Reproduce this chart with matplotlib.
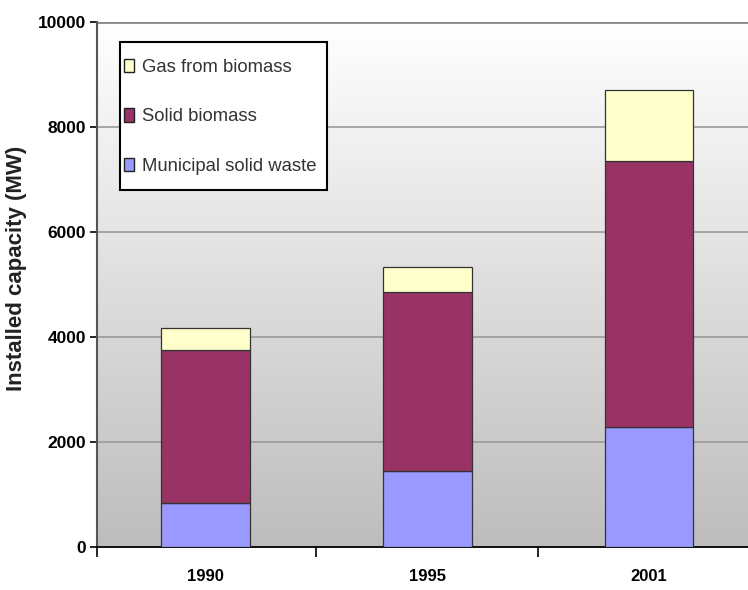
import numpy as np
import matplotlib
matplotlib.use("Agg")
import matplotlib.pyplot as plt
from matplotlib.patches import Patch, Rectangle

plt.rcParams['font.family'] = ['Liberation Sans', 'DejaVu Sans']

years = ['1990', '1995', '2001']
municipal_waste = [840, 1450, 2280]
solid_biomass = [2910, 3410, 5070]
gas_biomass = [420, 480, 1350]

fig = plt.figure(figsize=(7.48, 5.90), dpi=100)
ax = fig.add_axes([0.1297, 0.0729, 0.8703, 0.8898])

x = np.arange(len(years))
ax.set_xlim(-0.49, 2.447)
ax.set_ylim(0, 10000)

# grey fade behind the bars, white at the top
grad = np.linspace(1.0, 0.0, 256).reshape(-1, 1)
ax.imshow(grad, cmap=matplotlib.colors.LinearSegmentedColormap.from_list(
    'bg', ['#bdbdbd', '#ffffff']), aspect='auto',
    extent=[-0.49, 2.447, 0, 10000], zorder=0, origin='upper')

for yv in [2000, 4000, 6000, 8000]:
    ax.axhline(yv, color='#9a9a9a', lw=1.2, zorder=1)
ax.axhline(10000, color='#888888', lw=2.0, zorder=1)

w = 0.4
edge = '#333333'
ax.bar(x, municipal_waste, w, color='#9999ff', edgecolor=edge, lw=0.9, zorder=3)
ax.bar(x, solid_biomass, w, bottom=municipal_waste, color='#993366',
       edgecolor=edge, lw=0.9, zorder=3)
tops = [a + b for a, b in zip(municipal_waste, solid_biomass)]
ax.bar(x, gas_biomass, w, bottom=tops, color='#ffffcc', edgecolor=edge,
       lw=0.9, zorder=3)

for s in ['top', 'right']:
    ax.spines[s].set_visible(False)
ax.spines['left'].set_color('#555555')
ax.spines['left'].set_linewidth(1.5)
ax.spines['bottom'].set_linewidth(1.3)

ax.set_yticks(range(0, 10001, 2000))
ax.tick_params(axis='y', direction='out', length=5, width=1.2, pad=3,
               labelsize=12.5)
for lab in ax.get_yticklabels():
    lab.set_fontweight('bold')

# separators between categories, labels centred under the bars
ax.set_xticks([-0.49, 0.5, 1.5])
ax.set_xticklabels([])
ax.tick_params(axis='x', which='major', direction='out', length=7, width=1.2)
ax.set_xticks(x, minor=True)
ax.set_xticklabels(years, minor=True, fontsize=12, fontweight='bold')
ax.tick_params(axis='x', which='minor', length=0, pad=16)

ax.set_ylabel('Installed capacity (MW)', fontsize=16, fontweight='bold',
              color='#222222')
ax.yaxis.set_label_coords(-0.108, 0.53)

# legend frame drawn separately so the side padding can stay tight
ax.add_patch(Rectangle((0.0353, 0.680), 0.318, 0.282, transform=ax.transAxes,
                       facecolor='white', edgecolor='black', lw=1.5, zorder=5))
handles = [Patch(facecolor='#ffffcc', edgecolor='#222222', label='Gas from biomass'),
           Patch(facecolor='#993366', edgecolor='#222222', label='Solid biomass'),
           Patch(facecolor='#9999ff', edgecolor='#222222', label='Municipal solid waste')]
leg = ax.legend(handles=handles, loc='upper left', bbox_to_anchor=(0.0415, 0.93),
                fontsize=13.3, handlelength=0.55, handleheight=0.75,
                handletextpad=0.4, labelspacing=1.75, borderpad=0,
                borderaxespad=0, frameon=False)
leg.set_zorder(6)
for t in leg.get_texts():
    t.set_color('#333333')

fig.savefig('out.png', dpi=100)
